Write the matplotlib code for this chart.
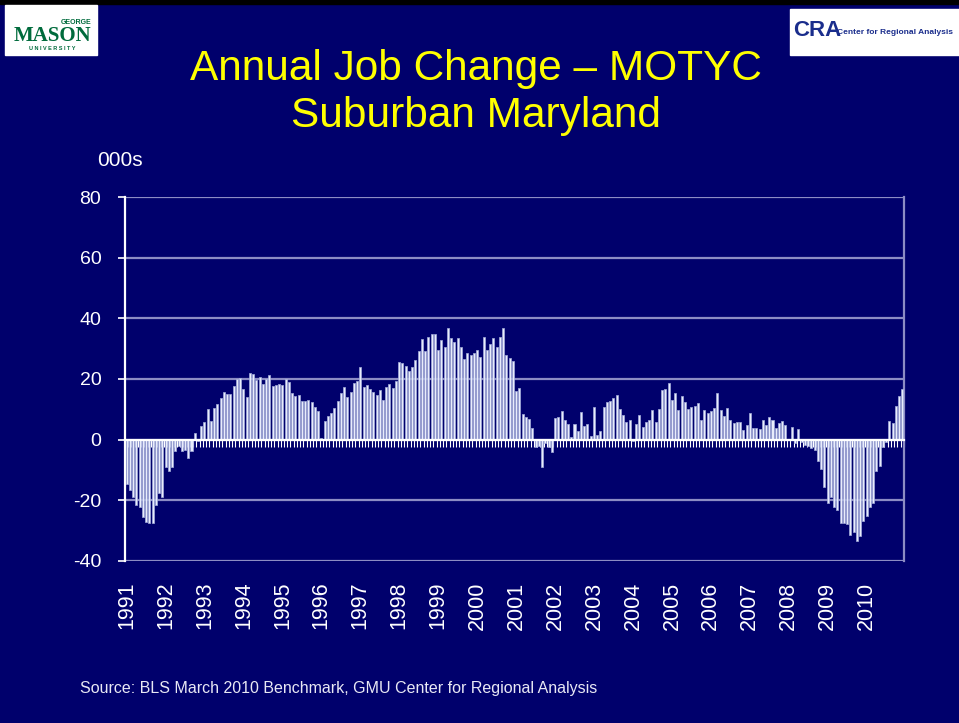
import numpy as np
import matplotlib
matplotlib.use("Agg")
import matplotlib.pyplot as plt
from matplotlib.patches import Rectangle

plt.rcParams['font.family'] = ['Liberation Sans', 'DejaVu Sans']
plt.rcParams['axes.unicode_minus'] = False

# annual job change, thousands, monthly Jan 1991 - Dec 2010
job_change = [
    -14.5, -16.7, -19.0, -21.4, -22.2, -25.4, -27.2, -27.5, -27.5, -21.4, -17.7, -19.0,  # 1991
    -9.0, -10.4, -9.0, -3.7, -2.2, -3.7, -3.4, -5.9, -3.7, 2.1, -0.3, 4.4,               # 1992
    5.8, 10.0, 6.3, 10.4, 11.9, 13.8, 15.6, 14.9, 15.2, 17.7, 20.0, 20.2,                # 1993
    16.6, 14.1, 21.9, 21.7, 19.7, 20.6, 18.3, 20.1, 21.4, 17.7, 18.0, 18.3,              # 1994
    18.0, 20.0, 19.1, 15.5, 14.5, 14.7, 12.6, 12.9, 13.2, 12.5, 10.7, 9.6,               # 1995
    0.5, 6.3, 7.9, 8.9, 10.4, 12.6, 15.5, 17.5, 14.2, 15.6, 18.6, 19.5,                  # 1996
    23.8, 17.3, 18.0, 16.7, 15.6, 14.7, 16.4, 13.1, 17.3, 18.4, 17.0, 19.2,              # 1997
    25.7, 25.3, 24.4, 22.5, 24.1, 26.3, 29.1, 33.2, 29.3, 34.0, 34.8, 34.8,              # 1998
    29.7, 32.9, 30.7, 36.7, 33.5, 32.1, 33.5, 30.7, 26.5, 28.5, 28.0, 28.5,              # 1999
    29.6, 27.1, 34.0, 29.6, 31.5, 33.5, 30.7, 33.7, 36.7, 28.0, 26.9, 26.0,              # 2000
    16.2, 17.0, 8.5, 7.6, 6.9, 3.8, -2.5, -2.0, -8.9, -1.0, -2.5, -4.2,                  # 2001
    7.1, 7.4, 9.3, 6.5, 5.2, 1.0, 5.2, 2.7, 9.0, 4.6, 5.2, 1.3,                          # 2002
    10.7, 1.6, 2.7, 10.7, 12.3, 12.7, 13.6, 14.7, 10.1, 8.1, 5.9, 6.6,                   # 2003
    -0.3, 5.2, 8.1, 4.3, 5.7, 6.5, 9.9, 5.7, 10.1, 16.4, 16.7, 18.7,                     # 2004
    13.1, 15.3, 9.8, 14.3, 12.5, 10.1, 10.7, 11.1, 12.2, 6.5, 9.9, 8.7,                  # 2005
    9.3, 10.3, 15.4, 9.8, 7.9, 10.3, 6.6, 5.5, 5.9, 5.9, 3.3, 4.8,                       # 2006
    8.7, 3.8, 3.8, 3.5, 6.5, 4.8, 7.6, 6.5, 3.8, 5.5, 6.0, 4.9,                          # 2007
    0.2, 4.1, -1.2, 3.5, -0.9, -1.6, -2.0, -2.6, -3.4, -6.9, -9.7, -15.7,                # 2008
    -21.0, -18.8, -22.1, -23.2, -27.5, -27.5, -27.8, -31.4, -30.5, -33.3, -31.9, -26.7,  # 2009
    -25.1, -22.3, -20.9, -10.2, -8.8, -2.3, -0.9, 6.0, 5.5, 11.0, 14.5, 16.7,            # 2010
]
year_labels = [str(y) for y in range(1991, 2011)]
y_ticks = [-40, -20, 0, 20, 40, 60, 80]

bg = '#00006C'
grid_col = '#8C8CC4'

fig = plt.figure(figsize=(9.59, 7.23), dpi=100, facecolor=bg)
ax = fig.add_axes([0.1303, 0.2241, 0.8123, 0.5034], facecolor=bg)

x = np.arange(len(job_change))
ax.bar(x, job_change, width=0.62, color='#E8ECFB', edgecolor='#A4AEDC', linewidth=0.5, zorder=3)

ax.set_xlim(-0.5, len(job_change) - 0.5)
ax.set_ylim(-40, 80)
ax.set_yticks(y_ticks)
ax.yaxis.grid(True, color=grid_col, linewidth=1.6, zorder=1)
ax.tick_params(axis='y', colors='white', labelsize=14, length=5, width=1.2, pad=12)

ax.spines['top'].set_visible(False)
ax.spines['right'].set_color(grid_col)
ax.spines['right'].set_linewidth(1.6)
ax.spines['left'].set_color('white')
ax.spines['left'].set_linewidth(1.6)
ax.spines['bottom'].set_position(('data', 0))
ax.spines['bottom'].set_color('white')
ax.spines['bottom'].set_linewidth(1.6)
ax.spines['bottom'].set_zorder(4)

# category ticks on the zero line
ax.set_xticks(np.arange(-0.5, len(job_change), 1.0))
ax.tick_params(axis='x', colors='white', length=5, width=0.8, labelbottom=False)

# year labels at the bottom of the plot area
sec = ax.secondary_xaxis(0)
sec.set_xticks(np.arange(0, len(job_change), 12))
sec.set_xticklabels(year_labels, rotation=90, va='top')
sec.tick_params(axis='x', colors='white', labelsize=15.5, length=0, pad=15)
sec.spines['bottom'].set_visible(False)

# texts
fig.text(0.496, 0.905, 'Annual Job Change \u2013 MOTYC', color='#FFFF00', fontsize=30.5,
         ha='center', va='center')
fig.text(0.496, 0.839, 'Suburban Maryland', color='#FFFF00', fontsize=30.5,
         ha='center', va='center')
fig.text(97 / 959, 1 - 160 / 723, '000s', color='white', fontsize=15, ha='left', va='center')
fig.text(80 / 959, 1 - 688 / 723, 'Source: BLS March 2010 Benchmark, GMU Center for Regional Analysis',
         color='#E8E8F4', fontsize=11.5, ha='left', va='center')

# top strip and logos
fig.patches.append(Rectangle((0, 1 - 4 / 723), 1, 4 / 723, transform=fig.transFigure,
                             color='black', zorder=0))
fig.patches.append(Rectangle((5 / 959, 1 - 55 / 723), 92 / 959, 50 / 723,
                             transform=fig.transFigure, color='white', zorder=1))
fig.text(52 / 959, 1 - 36 / 723, 'MASON', color='#006B3C', fontsize=15, fontweight='bold',
         family='Liberation Serif', ha='center', va='center', zorder=2)
fig.text(76 / 959, 1 - 23 / 723, 'GEORGE', color='#006B3C', fontsize=5, fontweight='bold',
         ha='center', va='center', zorder=2)
fig.text(52 / 959, 1 - 49 / 723, 'U N I V E R S I T Y', color='#006B3C', fontsize=4,
         fontweight='bold', ha='center', va='center', zorder=2)
fig.patches.append(Rectangle((790 / 959, 1 - 55 / 723), 169 / 959, 46 / 723,
                             transform=fig.transFigure, color='white', zorder=1))
fig.text(793 / 959, 1 - 31 / 723, 'CRA', color='#1A2D8C', fontsize=16, fontweight='bold',
         ha='left', va='center', zorder=2)
fig.text(837 / 959, 1 - 33 / 723, 'Center for Regional Analysis', color='#1A2D8C', fontsize=6,
         fontweight='bold', ha='left', va='center', zorder=2)

fig.savefig('out.png', dpi=100, facecolor=bg)
